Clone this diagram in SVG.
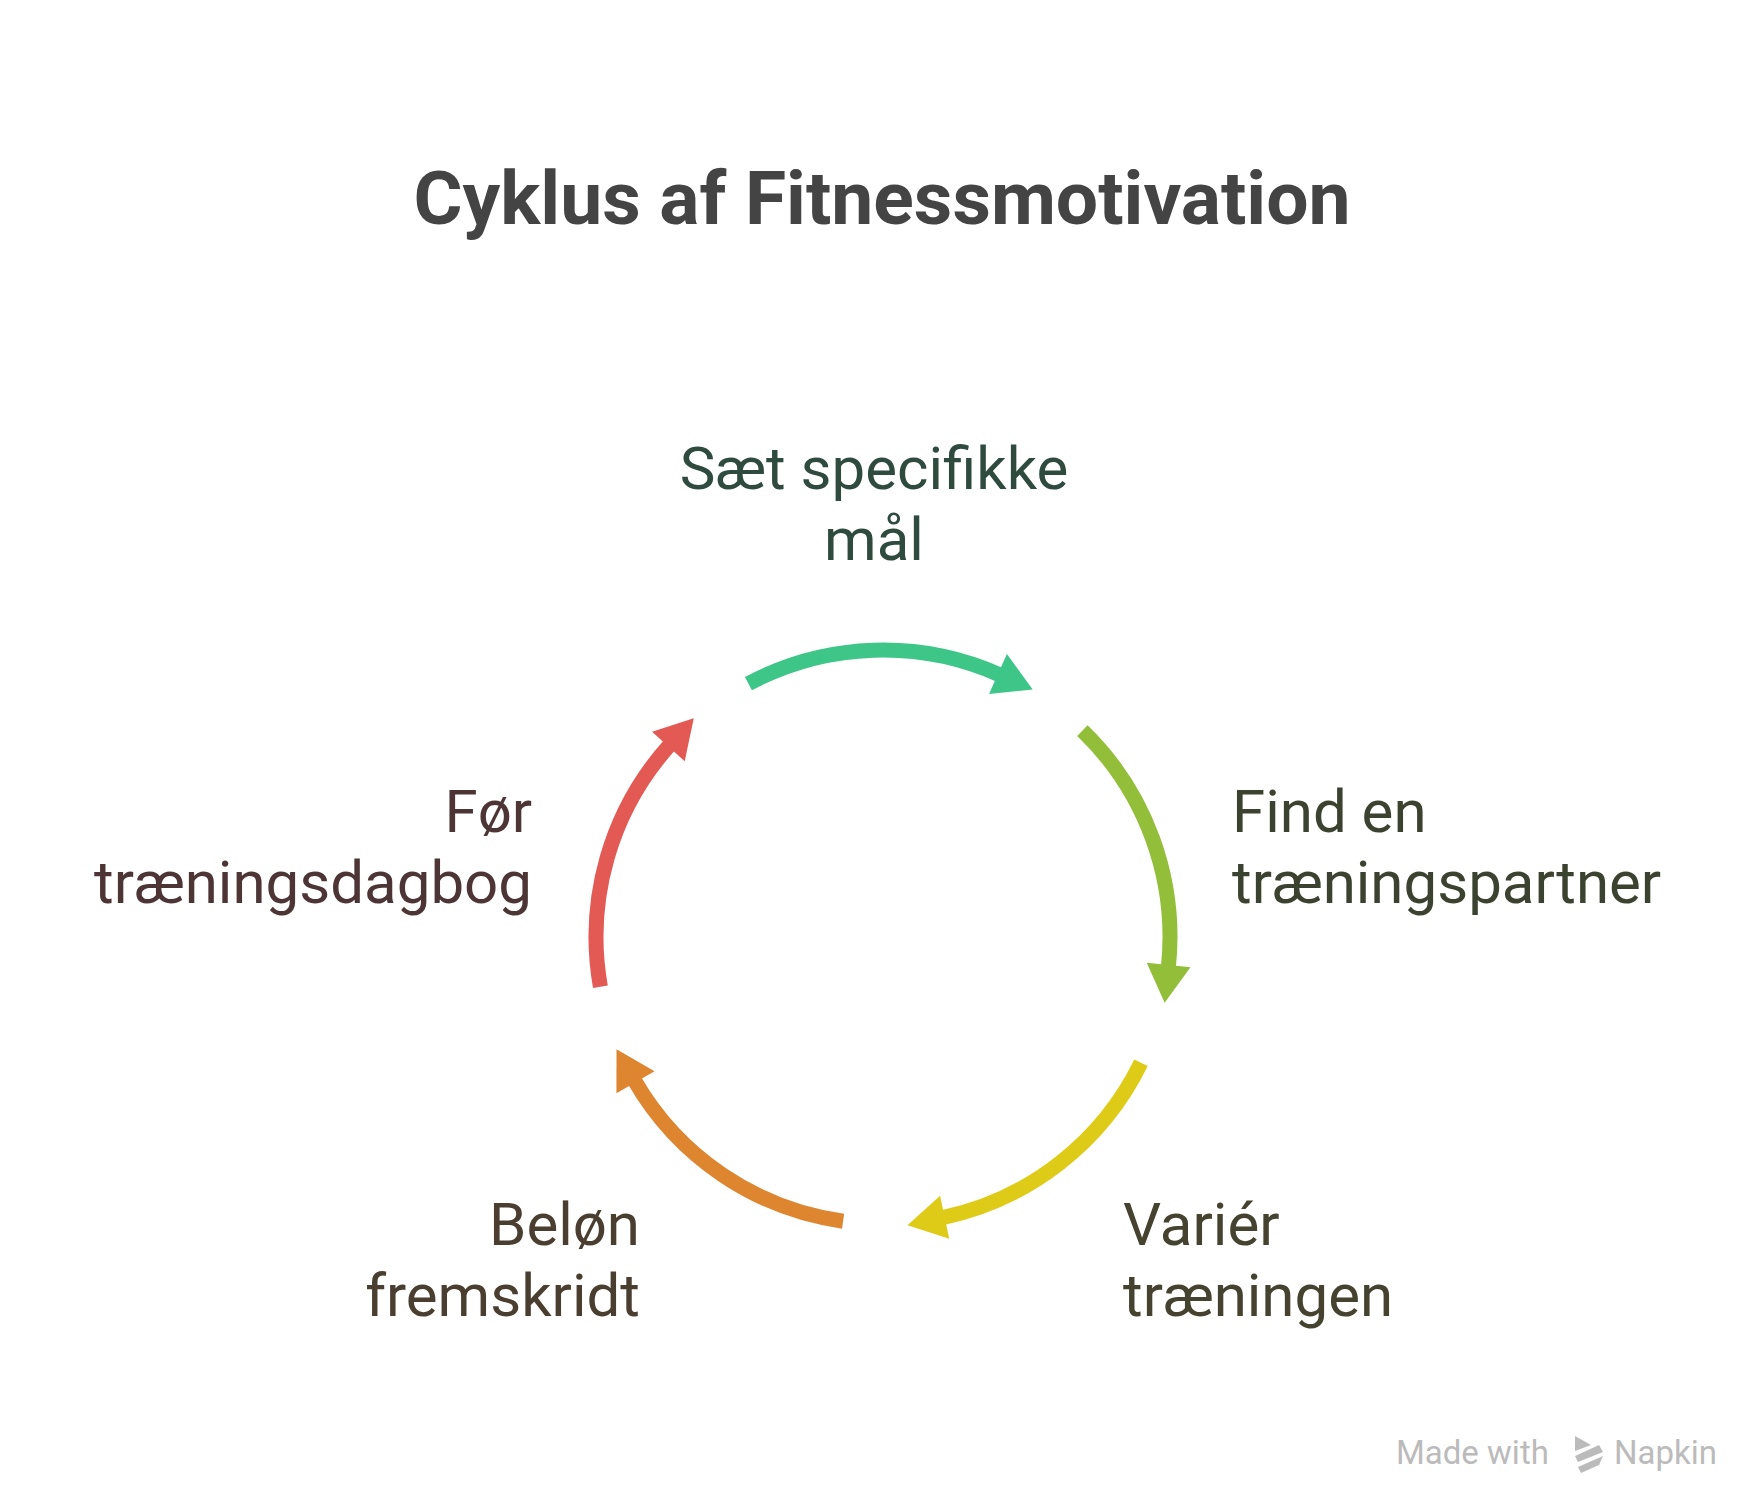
<svg xmlns="http://www.w3.org/2000/svg" width="1764" height="1506" viewBox="0 0 1764 1506">
<style>
.t{font-family:Roboto,"Liberation Sans",sans-serif;font-size:60px}
.a{fill:none;stroke-width:15}
</style>
<defs>
<marker id="mg" markerUnits="userSpaceOnUse" markerWidth="44" markerHeight="50" viewBox="0 -25 40 50" refX="2" refY="0" orient="auto"><path d="M0,-22 L38,0 L0,22 z" fill="#3DC687"/></marker>
<marker id="ml" markerUnits="userSpaceOnUse" markerWidth="44" markerHeight="50" viewBox="0 -25 40 50" refX="2" refY="0" orient="auto"><path d="M0,-22 L38,0 L0,22 z" fill="#92BE3A"/></marker>
<marker id="my" markerUnits="userSpaceOnUse" markerWidth="44" markerHeight="50" viewBox="0 -25 40 50" refX="2" refY="0" orient="auto"><path d="M0,-22 L38,0 L0,22 z" fill="#DECB17"/></marker>
<marker id="mo" markerUnits="userSpaceOnUse" markerWidth="44" markerHeight="50" viewBox="0 -25 40 50" refX="2" refY="0" orient="auto"><path d="M0,-22 L38,0 L0,22 z" fill="#DE8530"/></marker>
<marker id="mr" markerUnits="userSpaceOnUse" markerWidth="44" markerHeight="50" viewBox="0 -25 40 50" refX="2" refY="0" orient="auto"><path d="M0,-22 L38,0 L0,22 z" fill="#E35A55"/></marker>
</defs>
<rect width="1764" height="1506" fill="#fff"/>
<text x="882" y="224" text-anchor="middle" font-family="Roboto,'Liberation Sans',sans-serif" font-weight="bold" font-size="75" fill="#444">Cyklus af Fitnessmotivation</text>
<g id="connectors">
<path class="a" stroke="#3DC687" marker-end="url(#mg)" d="M748.4,683.6 A287,287 0 0 1 999.8,674.8"/>
<path class="a" stroke="#92BE3A" marker-end="url(#ml)" d="M1082.4,730.6 A287,287 0 0 1 1168.4,967"/>
<path class="a" stroke="#DECB17" marker-end="url(#my)" d="M1141,1062.8 A287,287 0 0 1 942.7,1217.7"/>
<path class="a" stroke="#DE8530" marker-end="url(#mo)" d="M843.1,1221.2 A287,287 0 0 1 634.5,1080.5"/>
<path class="a" stroke="#E35A55" marker-end="url(#mr)" d="M600.4,986.8 A287,287 0 0 1 669.7,745"/>
</g>
<g id="n1"><text class="t" fill="#2F4A3F" text-anchor="middle"><tspan x="874" y="489">Sæt specifikke</tspan><tspan x="874" y="560">mål</tspan></text></g>
<g id="n2"><text class="t" fill="#3C4230"><tspan x="1232" y="832">Find en</tspan><tspan x="1232" y="903">træningspartner</tspan></text></g>
<g id="n3"><text class="t" fill="#454230"><tspan x="1123" y="1245">Variér</tspan><tspan x="1123" y="1316">træningen</tspan></text></g>
<g id="n4"><text class="t" fill="#4A3E30" text-anchor="end"><tspan x="640" y="1245">Beløn</tspan><tspan x="640" y="1316">fremskridt</tspan></text></g>
<g id="n5"><text class="t" fill="#4D3535" text-anchor="end"><tspan x="532" y="832">Før</tspan><tspan x="532" y="903">træningsdagbog</tspan></text></g>
<g id="watermark" fill="#BBBBBB">
<text x="1396" y="1464" font-family="Roboto,'Liberation Sans',sans-serif" font-size="33">Made with</text>
<path d="M1575,1436 L1591,1445 L1575,1451 z M1575,1456 L1599,1445 L1603,1452 L1578,1462 z M1578,1467 L1603,1456 L1599,1465 L1581,1473 z"/>
<text x="1614" y="1464" font-family="Roboto,'Liberation Sans',sans-serif" font-size="33">Napkin</text>
</g>
</svg>
